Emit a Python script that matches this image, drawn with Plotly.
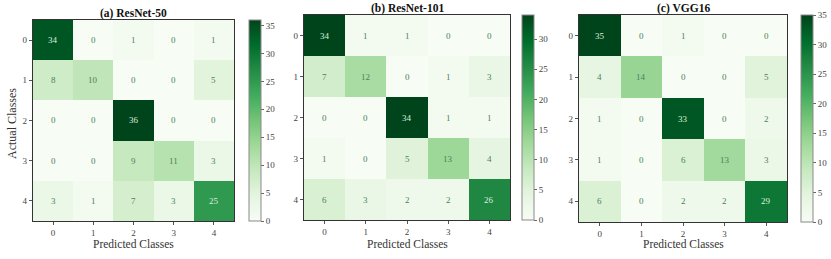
import plotly.graph_objects as go

classes = [0, 1, 2, 3, 4]
tick_labels = ["0", "1", "2", "3", "4"]

cm_resnet50 = [
    [34, 0, 1, 0, 1],
    [8, 10, 0, 0, 5],
    [0, 0, 36, 0, 0],
    [0, 0, 9, 11, 3],
    [3, 1, 7, 3, 25],
]
cm_resnet101 = [
    [34, 1, 1, 0, 0],
    [7, 12, 0, 1, 3],
    [0, 0, 34, 1, 1],
    [1, 0, 5, 13, 4],
    [6, 3, 2, 2, 26],
]
cm_vgg16 = [
    [35, 0, 1, 0, 0],
    [4, 14, 0, 0, 5],
    [1, 0, 33, 0, 2],
    [1, 0, 6, 13, 3],
    [6, 0, 2, 2, 29],
]
titles = ["(a) ResNet-50", "(b) ResNet-101", "(c) VGG16"]
matrices = [cm_resnet50, cm_resnet101, cm_vgg16]

W, H = 831, 259
# pixel boxes: (x0, x1, ytop, ybottom), colorbar x0
boxes = [(33, 234, 20, 221, 249), (304, 510, 15, 220, 522), (579, 787, 15, 222, 801)]
title_y = [13, 8, 8]

greens = [
    [0.0, "#f7fcf5"], [0.125, "#e5f5e0"], [0.25, "#c7e9c0"], [0.375, "#a1d99b"],
    [0.5, "#74c476"], [0.625, "#41ab5d"], [0.75, "#238b45"], [0.875, "#006d2c"],
    [1.0, "#00441b"],
]
FONT = "Liberation Serif, Times New Roman, serif"

fig = go.Figure()
annotations = []
for i, (m, t, b, ty) in enumerate(zip(matrices, titles, boxes, title_y)):
    x0, x1, yt, yb, cbx = b
    xa = "x" if i == 0 else f"x{i+1}"
    ya = "y" if i == 0 else f"y{i+1}"
    zmax = max(max(r) for r in m)
    fig.add_trace(go.Heatmap(
        z=m, x=classes, y=classes, xaxis=xa, yaxis=ya,
        colorscale=greens, zmin=0, zmax=zmax, xgap=0, ygap=0,
        hoverinfo="z",
        colorbar=dict(
            x=cbx / W, xanchor="left", xref="paper",
            y=(H - yb) / H, yanchor="bottom", len=(yb - yt) / H, lenmode="fraction",
            thickness=12, outlinewidth=1, outlinecolor="#8a8a8a",
            tickvals=[0, 5, 10, 15, 20, 25, 30, 35], ticks="outside", ticklen=3,
            tickcolor="#666", tickfont=dict(family=FONT, size=9, color="#444"),
            ypad=0, xpad=0,
        ),
    ))
    axkey = "xaxis" if i == 0 else f"xaxis{i+1}"
    aykey = "yaxis" if i == 0 else f"yaxis{i+1}"
    fig.layout[axkey] = dict(
        domain=[x0 / W, x1 / W], anchor=ya, tickvals=classes, ticktext=tick_labels,
        ticks="outside", ticklen=3, tickcolor="#555", showgrid=False, zeroline=False,
        showline=True, linecolor="#333", linewidth=1.2, mirror=True, automargin=False,
        tickfont=dict(family=FONT, size=9, color="#444"), range=[-0.5, 4.5],
    )
    fig.layout[aykey] = dict(
        domain=[(H - yb) / H, (H - yt) / H], anchor=xa, tickvals=classes, ticktext=tick_labels,
        ticks="outside", ticklen=3, tickcolor="#555", showgrid=False, zeroline=False,
        showline=True, linecolor="#333", linewidth=1.2, mirror=True, automargin=False,
        tickfont=dict(family=FONT, size=9, color="#444"), range=[4.5, -0.5],
    )
    for r in range(5):
        for c in range(5):
            v = m[r][c]
            col = "#dcefdc" if v > zmax * 0.55 else "#4d7f5c"
            annotations.append(dict(
                x=classes[c], y=classes[r], xref=xa, yref=ya, text=str(v),
                showarrow=False, font=dict(family=FONT, size=9, color=col),
            ))
    annotations.append(dict(
        x=(x0 + x1) / 2 / W, y=(H - ty) / H, xref="paper", yref="paper",
        text=f"<b>{t}</b>", showarrow=False, xanchor="center", yanchor="middle",
        font=dict(family=FONT, size=11.5, color="#111"),
    ))
    annotations.append(dict(
        x=(x0 + x1) / 2 / W, y=(H - 244) / H, xref="paper", yref="paper",
        text="Predicted Classes", showarrow=False, xanchor="center", yanchor="middle",
        font=dict(family=FONT, size=11.5, color="#333"),
    ))

annotations.append(dict(
    x=12 / W, y=(H - 124) / H, xref="paper", yref="paper", text="Actual Classes",
    showarrow=False, textangle=-90, xanchor="center", yanchor="middle",
    font=dict(family=FONT, size=12, color="#333"),
))

fig.update_layout(
    width=W, height=H, margin=dict(l=0, r=0, t=0, b=0, autoexpand=False),
    paper_bgcolor="white", plot_bgcolor="white",
    annotations=annotations, showlegend=False,
)
fig.write_html(
    "out.html",
    config={"displayModeBar": False},
    post_script="document.body.style.margin='0';document.body.style.padding='0';",
)
